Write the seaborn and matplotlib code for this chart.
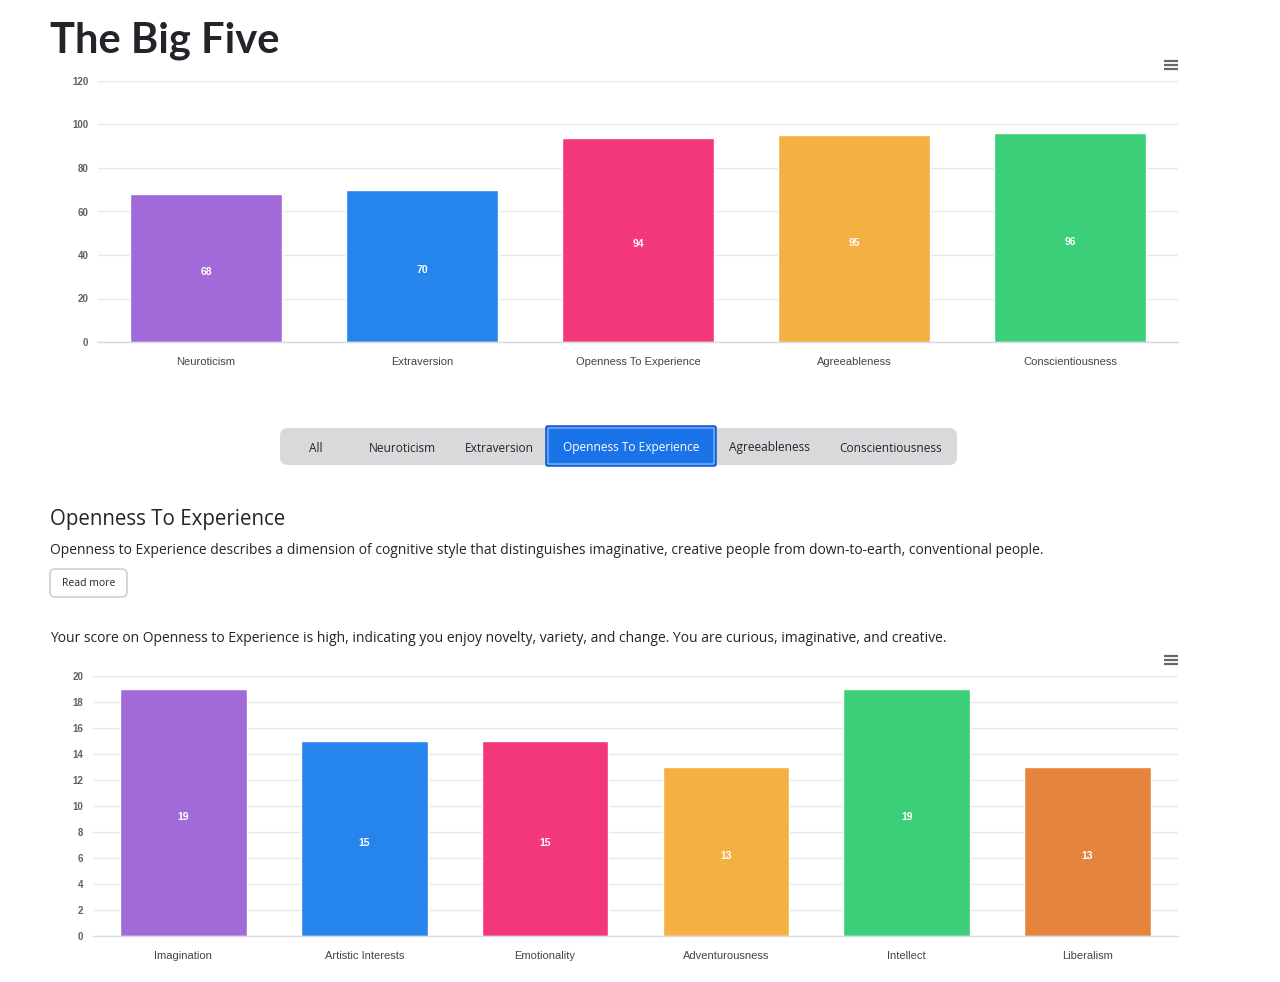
import matplotlib
matplotlib.use("Agg")
import matplotlib.pyplot as plt
import seaborn as sns
import pandas as pd
from matplotlib.patches import FancyBboxPatch

# ---------------- data ----------------
big5_labels = ["Neuroticism", "Extraversion", "Openness To Experience",
               "Agreeableness", "Conscientiousness"]
big5_scores = [68, 70, 94, 95, 96]
big5_colors = ["#A26AD8", "#2585EC", "#F2377A", "#F5B043", "#3BCF7A"]
big5_yticks = [0, 20, 40, 60, 80, 100, 120]

facet_labels = ["Imagination", "Artistic Interests", "Emotionality",
                "Adventurousness", "Intellect", "Liberalism"]
facet_scores = [19, 15, 15, 13, 19, 13]
facet_colors = ["#A26AD8", "#2585EC", "#F2377A", "#F5B043", "#3BCF7A", "#E5843C"]
facet_yticks = [0, 2, 4, 6, 8, 10, 12, 14, 16, 18, 20]

tabs = ["All", "Neuroticism", "Extraversion", "Openness To Experience",
        "Agreeableness", "Conscientiousness"]
tab_x = [316, 402, 499, 631, 769, 891]

sns.set_theme(style="white")
plt.rcParams["font.family"] = ["Liberation Sans", "DejaVu Sans"]

W, H = 1280, 982
fig = plt.figure(figsize=(W / 100, H / 100), dpi=100)
fig.patch.set_facecolor("white")

GRID = "#E9E9E9"
AXLINE = "#D6DAE3"
TICKTXT = "#606060"


def style_axes(ax, yticks, n):
    ax.set_ylim(yticks[0], yticks[-1])
    ax.set_yticks(yticks)
    ax.set_xlim(-0.5, n - 0.5)
    ax.yaxis.grid(True, color=GRID, lw=1)
    ax.set_axisbelow(True)
    for s in ["left", "right", "top"]:
        ax.spines[s].set_visible(False)
    ax.spines["bottom"].set_color(AXLINE)
    ax.spines["bottom"].set_linewidth(1)
    ax.set_xlabel("")
    ax.set_ylabel("")
    ax.tick_params(axis="y", length=0, pad=7, labelsize=7, labelcolor=TICKTXT)
    ax.tick_params(axis="x", which="major", length=0, pad=11, labelsize=8,
                   labelcolor="#444444")
    ax.set_xticks([i - 0.5 for i in range(n + 1)], minor=True)
    ax.tick_params(axis="x", which="minor", length=8, color=AXLINE, width=1)
    for lab in ax.get_yticklabels():
        lab.set_fontweight("bold")
    for c in ax.containers:
        ax.bar_label(c, label_type="center", color="white", fontweight="bold",
                     fontsize=7.5, padding=-3)


# ---------------- top chart ----------------
ax1 = fig.add_axes([98 / W, 1 - 342 / H, (1178 - 98) / W, (342 - 81) / H])
df1 = pd.DataFrame({"trait": big5_labels, "score": big5_scores})
sns.barplot(data=df1, x="trait", y="score", hue="trait", palette=big5_colors,
            legend=False, width=0.7, saturation=1, ax=ax1)
style_axes(ax1, big5_yticks, len(big5_labels))

# ---------------- bottom chart ----------------
ax2 = fig.add_axes([93 / W, 1 - 936 / H, (1178 - 93) / W, (936 - 676) / H])
df2 = pd.DataFrame({"facet": facet_labels, "score": facet_scores})
sns.barplot(data=df2, x="facet", y="score", hue="facet", palette=facet_colors,
            legend=False, width=0.7, saturation=1, ax=ax2)
style_axes(ax2, facet_yticks, len(facet_labels))

# ---------------- page overlay (pixel coordinates) ----------------
ov = fig.add_axes([0, 0, 1, 1], zorder=5)
ov.set_xlim(0, W)
ov.set_ylim(H, 0)
ov.axis("off")
ov.patch.set_alpha(0)

PAGE = ["Open Sans", "DejaVu Sans"]
DARK = "#212529"

ov.text(50, 52, "The Big Five", fontsize=30, fontweight="bold",
        family=["Lato", "DejaVu Sans"], color=DARK, va="baseline", ha="left")

# hamburger icons
for cy in (65, 660):
    for dy in (-4, 0, 4):
        ov.plot([1164, 1178], [cy + dy, cy + dy], color="#666666", lw=1.6,
                solid_capstyle="butt")

# tab group
ov.add_patch(FancyBboxPatch((280 + 8, 428 + 8), 677 - 16, 37 - 16,
                            boxstyle="round,pad=8", fc="#D9D9DC", ec="none"))
ov.add_patch(FancyBboxPatch((546, 426), 170, 40,
                            boxstyle="round,pad=0,rounding_size=2",
                            fc="#1A73E8", ec="#1A5FD0", lw=1.2))
ov.add_patch(FancyBboxPatch((548, 428), 166, 36,
                            boxstyle="round,pad=0,rounding_size=1",
                            fc="none", ec="#9CC3F5", lw=0.8))
for t, x in zip(tabs, tab_x):
    ov.text(x, 448, t, fontsize=8.6, family=PAGE, ha="center", va="center",
            color="white" if t == "Openness To Experience" else DARK)

ov.text(50, 519, "Openness To Experience", fontsize=14.8, family=PAGE,
        color=DARK, ha="left", va="center")
ov.text(50, 551, "Openness to Experience describes a dimension of cognitive style "
        "that distinguishes imaginative, creative people from down-to-earth, "
        "conventional people.", fontsize=10.0, family=PAGE, color=DARK,
        ha="left", va="center")
ov.add_patch(FancyBboxPatch((50, 569), 77, 28,
                            boxstyle="round,pad=0,rounding_size=5",
                            fc="white", ec="#D0D0D0", lw=1.2))
ov.text(88.5, 583, "Read more", fontsize=7.5, family=PAGE, color=DARK,
        ha="center", va="center")
ov.text(50, 639, "Your score on Openness to Experience is high, indicating you "
        "enjoy novelty, variety, and change. You are curious, imaginative, and "
        "creative.", fontsize=10.0, family=PAGE, color=DARK, ha="left",
        va="center")

fig.savefig("out.png", dpi=100, facecolor="white")
